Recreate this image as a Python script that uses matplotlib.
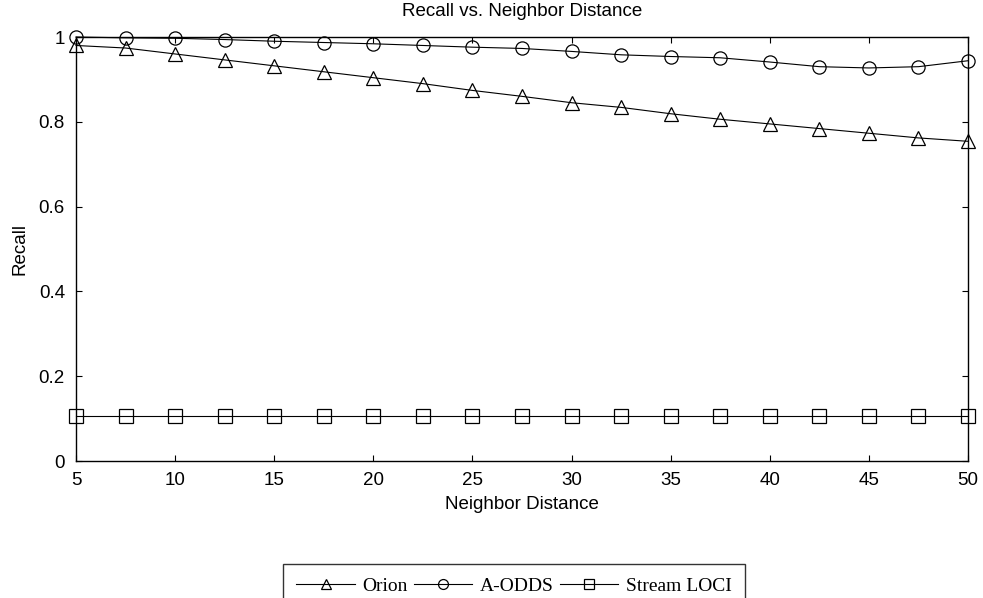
import matplotlib
matplotlib.use("Agg")
import matplotlib.pyplot as plt
import numpy as np

x = [5, 7.5, 10, 12.5, 15, 17.5, 20, 22.5, 25, 27.5, 30, 32.5, 35, 37.5, 40, 42.5, 45, 47.5, 50]
orion = [0.980, 0.974, 0.960, 0.946, 0.932, 0.918, 0.904, 0.890, 0.874, 0.860, 0.845, 0.834, 0.819, 0.806, 0.795, 0.784, 0.773, 0.762, 0.754]
aodds = [1.000, 0.998, 0.997, 0.994, 0.990, 0.987, 0.984, 0.980, 0.976, 0.973, 0.966, 0.958, 0.954, 0.951, 0.941, 0.930, 0.927, 0.930, 0.944]
loci = [0.105] * 19
xticks = [5, 10, 15, 20, 25, 30, 35, 40, 45, 50]
yticks = [0, 0.2, 0.4, 0.6, 0.8, 1.0]
yticklabels = ["0", "0.2", "0.4", "0.6", "0.8", "1"]

plt.rcParams['font.family'] = ['Liberation Sans', 'DejaVu Sans']
fig = plt.figure(figsize=(9.83, 5.98), dpi=100)
ax = fig.add_axes([76/983, 1-461/598, (968-76)/983, (461-37)/598])

kw = dict(color='black', lw=0.8, markerfacecolor='none', markeredgecolor='black',
          markeredgewidth=0.9, markersize=9.5, clip_on=False)
ax.plot(x, orion, marker='^', label='Orion', **kw)
ax.plot(x, aodds, marker='o', label='A-ODDS', **kw)
ax.plot(x, loci, marker='s', label='Stream LOCI', **kw)

fs = 13.5
ax.set_xlim(5, 50)
ax.set_ylim(0, 1)
ax.set_xticks(xticks)
ax.set_yticks(yticks)
ax.set_yticklabels(yticklabels)
ax.tick_params(direction='in', length=4, width=0.8, top=True, right=True, labelsize=fs, pad=8)
for s in ax.spines.values():
    s.set_linewidth(1.0)
ax.set_title('Recall vs. Neighbor Distance', fontsize=fs, pad=15)
ax.set_xlabel('Neighbor Distance', fontsize=fs, labelpad=5)
ax.set_ylabel('Recall', fontsize=fs, labelpad=7)

leg = fig.legend(handles=ax.get_lines(), loc='upper center', bbox_to_anchor=(514/983, 1-564/598),
                 ncol=3, frameon=True, fancybox=False, edgecolor='black',
                 prop={'family': 'Liberation Serif', 'size': 14}, handlelength=3.0,
                 borderpad=0.7, columnspacing=0.3, handletextpad=0.4, markerscale=0.75,
                 borderaxespad=0)
leg.get_frame().set_linewidth(1.0)

fig.savefig('out.png', dpi=100)
